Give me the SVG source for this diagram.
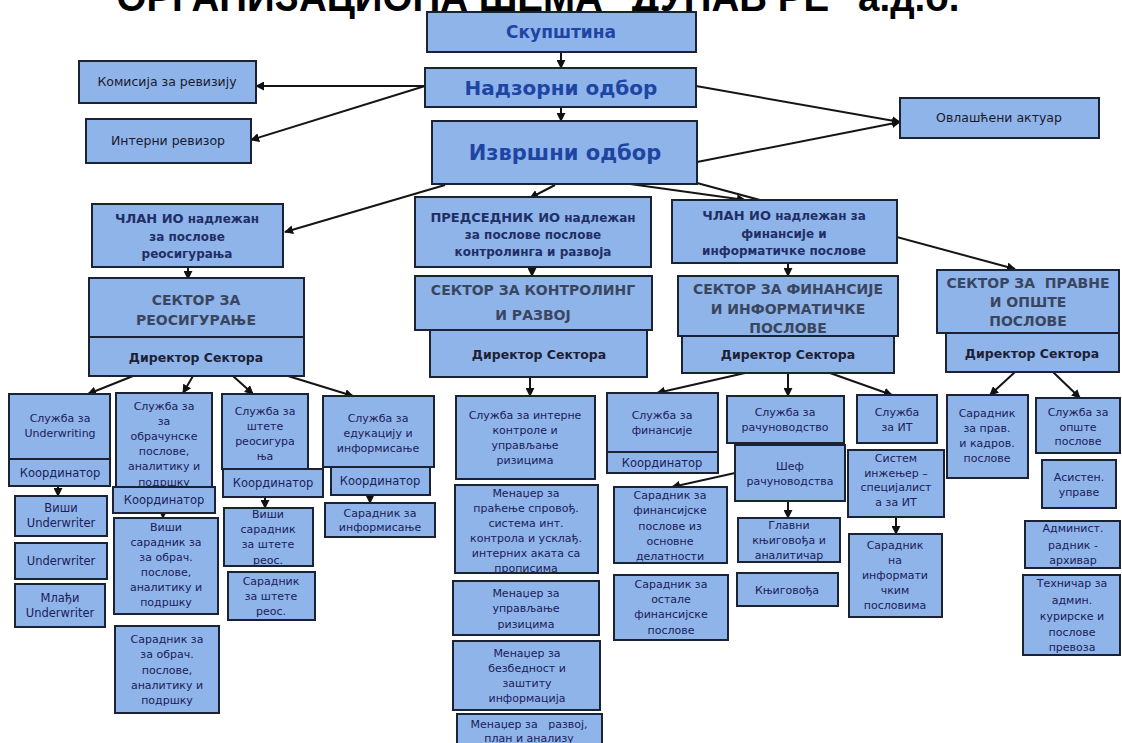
<svg xmlns="http://www.w3.org/2000/svg" width="1122" height="743" viewBox="0 0 1122 743">
<defs>
<marker id="ah" viewBox="0 0 10 10" refX="9" refY="5" markerWidth="9" markerHeight="9" markerUnits="userSpaceOnUse" orient="auto">
<path d="M0,0 L10,5 L0,10 z" fill="#111"/>
</marker>
<style>
.b{fill:#8fb4ea;stroke:#1a2233;stroke-width:2}
.c line{stroke:#151515;stroke-width:2;marker-end:url(#ah)}
text{font-family:"DejaVu Sans","Noto Sans",sans-serif;text-anchor:middle}
.t{font-size:11px;fill:#1b2058}
.k{font-size:11.5px;fill:#1b2058}
.top{font-weight:bold;fill:#1f45a3}
.m{font-size:12.5px;fill:#1a1a2a}
.cl{font-size:12px;font-weight:bold;fill:#1f2f66}
.s{font-size:14px;font-weight:bold;fill:#3a4660}
.d{font-size:12.5px;fill:#1c2136;font-weight:bold}
.ttl{font-family:"Liberation Sans",Arial,sans-serif;font-weight:bold;font-size:40px;fill:#000}
</style>
</defs>
<rect width="1122" height="743" fill="#fff"/>
<text class="ttl" x="538" y="11" textLength="843" lengthAdjust="spacingAndGlyphs">ОРГАНИЗАЦИОНА ШЕМА "ДУНАВ РЕ" а.д.о.</text>

<g id="connectors" class="c">
<line x1="561" y1="52" x2="561" y2="68"/>
<line x1="561" y1="107" x2="561" y2="121"/>
<line x1="425" y1="86" x2="256" y2="86"/>
<line x1="425" y1="86" x2="251" y2="140"/>
<line x1="696" y1="86" x2="900" y2="122"/>
<line x1="697" y1="162" x2="900" y2="122"/>
<line x1="445" y1="185" x2="285" y2="232"/>
<line x1="555" y1="185" x2="530" y2="198"/>
<line x1="630" y1="184" x2="745" y2="200"/>
<line x1="697" y1="183" x2="1015" y2="269"/>
<line x1="188" y1="268" x2="188" y2="279"/>
<line x1="532" y1="268" x2="532" y2="276"/>
<line x1="788" y1="263" x2="788" y2="276"/>
<line x1="133" y1="376" x2="88" y2="394"/>
<line x1="193" y1="376" x2="183" y2="393"/>
<line x1="233" y1="376" x2="253" y2="394"/>
<line x1="288" y1="376" x2="353" y2="396"/>
<line x1="530" y1="377" x2="530" y2="396"/>
<line x1="745" y1="373" x2="657" y2="393"/>
<line x1="788" y1="373" x2="788" y2="396"/>
<line x1="830" y1="373" x2="892" y2="395"/>
<line x1="1015" y1="372" x2="990" y2="395"/>
<line x1="1053" y1="372" x2="1080" y2="398"/>
<line x1="58" y1="486" x2="58" y2="496"/>
<line x1="163" y1="513" x2="163" y2="518"/>
<line x1="265" y1="497" x2="265" y2="508"/>
<line x1="370" y1="495" x2="370" y2="503"/>
<line x1="735" y1="473" x2="672" y2="487"/>
<line x1="788" y1="501" x2="788" y2="518"/>
<line x1="896" y1="517" x2="896" y2="534"/>
</g>

<g id="skupstina"><rect class="b" x="427" y="12" width="269" height="40"/><text class="top" x="561" y="38" font-size="17">Скупштина</text></g>
<g id="nadzorni"><rect class="b" x="425" y="68" width="271" height="39"/><text class="top" x="561" y="95" font-size="20">Надзорни одбор</text></g>
<g id="izvrsni"><rect class="b" x="432" y="121" width="265" height="63"/><text class="top" x="565" y="160" font-size="21">Извршни одбор</text></g>
<g id="komisija"><rect class="b" x="79" y="61" width="177" height="42"/><text class="m" x="167" y="86">Комисија за ревизију</text></g>
<g id="interni"><rect class="b" x="86" y="119" width="165" height="44"/><text class="m" x="168" y="145">Интерни ревизор</text></g>
<g id="aktuar"><rect class="b" x="900" y="98" width="199" height="40"/><text class="m" x="999" y="122">Овлашћени актуар</text></g>

<g id="clan-reos"><rect class="b" x="92" y="204" width="191" height="63"/>
<text class="cl" x="187" y="223"><tspan font-size="13">ЧЛАН ИО</tspan> надлежан</text>
<text class="cl" x="187" y="241">за послове</text>
<text class="cl" x="187" y="258">реосигурања</text></g>
<g id="predsednik"><rect class="b" x="415" y="197" width="236" height="70"/>
<text class="cl" x="533" y="222"><tspan font-size="13">ПРЕДСЕДНИК ИО</tspan> надлежан</text>
<text class="cl" x="533" y="239">за послове послове</text>
<text class="cl" x="533" y="256">контролинга и развоја</text></g>
<g id="clan-fin"><rect class="b" x="672" y="200" width="225" height="63"/>
<text class="cl" x="784" y="220"><tspan font-size="13">ЧЛАН ИО</tspan> надлежан за</text>
<text class="cl" x="784" y="238">финансије и</text>
<text class="cl" x="784" y="255">информатичке послове</text></g>

<g id="sektor-reos"><rect class="b" x="89" y="278" width="215" height="59"/><rect class="b" x="89" y="337" width="215" height="39"/>
<text class="s" x="196" y="305">СЕКТОР ЗА</text>
<text class="s" x="196" y="325">РЕОСИГУРАЊЕ</text>
<text class="d" x="196" y="362">Директор Сектора</text></g>
<g id="sektor-kontr"><rect class="b" x="415" y="276" width="237" height="54"/><rect class="b" x="430" y="330" width="217" height="47"/>
<text class="s" x="533" y="295">СЕКТОР ЗА КОНТРОЛИНГ</text>
<text class="s" x="533" y="320">И РАЗВОЈ</text>
<text class="d" x="539" y="359">Директор Сектора</text></g>
<g id="sektor-fin"><rect class="b" x="678" y="276" width="220" height="60"/><rect class="b" x="682" y="336" width="212" height="37"/>
<text class="s" x="788" y="294">СЕКТОР ЗА ФИНАНСИЈЕ</text>
<text class="s" x="788" y="314">И ИНФОРМАТИЧКЕ</text>
<text class="s" x="788" y="333">ПОСЛОВЕ</text>
<text class="d" x="788" y="359">Директор Сектора</text></g>
<g id="sektor-pravne"><rect class="b" x="937" y="270" width="182" height="63"/><rect class="b" x="946" y="333" width="173" height="39"/>
<text class="s" x="1028" y="288" xml:space="preserve">СЕКТОР ЗА  ПРАВНЕ</text>
<text class="s" x="1028" y="307">И ОПШТЕ</text>
<text class="s" x="1028" y="326">ПОСЛОВЕ</text>
<text class="d" x="1032" y="358">Директор Сектора</text></g>

<g id="sl-uw"><rect class="b" x="9" y="394" width="101" height="65"/><rect class="b" x="9" y="459" width="101" height="27"/>
<text class="t" x="60" y="422">Служба за</text><text class="t" x="60" y="437">Underwriting</text>
<text class="k" x="60" y="477">Координатор</text></g>
<g id="visi-uw"><rect class="b" x="15" y="496" width="92" height="40"/><text class="k" x="61" y="512">Виши</text><text class="k" x="61" y="527">Underwriter</text></g>
<g id="uw"><rect class="b" x="15" y="543" width="92" height="36"/><text class="k" x="61" y="565">Underwriter</text></g>
<g id="mladji-uw"><rect class="b" x="15" y="584" width="90" height="43"/><text class="k" x="60" y="602">Млађи</text><text class="k" x="60" y="617">Underwriter</text></g>

<g id="sl-obr"><rect class="b" x="116" y="393" width="96" height="95"/>
<text class="t" x="164" y="410">Служба за</text><text class="t" x="164" y="425">за</text><text class="t" x="164" y="440">обрачунске</text><text class="t" x="164" y="455">послове,</text><text class="t" x="164" y="470">аналитику и</text><text class="t" x="164" y="486">подршку</text></g>
<g id="koord-obr"><rect class="b" x="113" y="487" width="102" height="26"/><text class="k" x="164" y="504">Координатор</text></g>
<g id="visi-obr"><rect class="b" x="114" y="518" width="104" height="96"/>
<text class="t" x="166" y="531">Виши</text><text class="t" x="166" y="546">сарадник за</text><text class="t" x="166" y="561">за обрач.</text><text class="t" x="166" y="576">послове,</text><text class="t" x="166" y="591">аналитику и</text><text class="t" x="166" y="606">подршку</text></g>
<g id="sar-obr"><rect class="b" x="115" y="626" width="104" height="87"/>
<text class="t" x="167" y="643">Сарадник за</text><text class="t" x="167" y="658">за обрач.</text><text class="t" x="167" y="674">послове,</text><text class="t" x="167" y="689">аналитику и</text><text class="t" x="167" y="704">подршку</text></g>

<g id="sl-stete"><rect class="b" x="222" y="394" width="86" height="75"/>
<text class="t" x="265" y="415">Служба за</text><text class="t" x="265" y="430">штете</text><text class="t" x="265" y="445">реосигура</text><text class="t" x="265" y="460">ња</text></g>
<g id="koord-stete"><rect class="b" x="223" y="469" width="100" height="28"/><text class="k" x="273" y="487">Координатор</text></g>
<g id="visi-stete"><rect class="b" x="224" y="508" width="89" height="58"/>
<text class="t" x="268" y="518">Виши</text><text class="t" x="268" y="533">сарадник</text><text class="t" x="268" y="548">за штете</text><text class="t" x="268" y="564">реос.</text></g>
<g id="sar-stete"><rect class="b" x="228" y="572" width="87" height="48"/>
<text class="t" x="271" y="585">Сарадник</text><text class="t" x="271" y="600">за штете</text><text class="t" x="271" y="615">реос.</text></g>

<g id="sl-eduk"><rect class="b" x="323" y="396" width="111" height="71"/>
<text class="t" x="378" y="422">Служба за</text><text class="t" x="378" y="437">едукацију и</text><text class="t" x="378" y="452">информисање</text></g>
<g id="koord-eduk"><rect class="b" x="331" y="467" width="99" height="28"/><text class="k" x="380" y="485">Координатор</text></g>
<g id="sar-inf"><rect class="b" x="325" y="503" width="110" height="34"/>
<text class="t" x="380" y="517">Сарадник за</text><text class="t" x="380" y="531">информисање</text></g>

<g id="sl-interne"><rect class="b" x="456" y="396" width="139" height="83"/>
<text class="t" x="525" y="419">Служба за интерне</text><text class="t" x="525" y="434">контроле и</text><text class="t" x="525" y="449">управљање</text><text class="t" x="525" y="464">ризицима</text></g>
<g id="men-pracenje"><rect class="b" x="455" y="485" width="143" height="88"/>
<text class="t" x="526" y="497">Менаџер за</text><text class="t" x="526" y="512">праћење спровођ.</text><text class="t" x="526" y="527">система инт.</text><text class="t" x="526" y="542">контрола и усклађ.</text><text class="t" x="526" y="557">интерних аката са</text><text class="t" x="526" y="572">прописима</text></g>
<g id="men-rizik"><rect class="b" x="453" y="581" width="146" height="54"/>
<text class="t" x="526" y="597">Менаџер за</text><text class="t" x="526" y="612">управљање</text><text class="t" x="526" y="628">ризицима</text></g>
<g id="men-bezb"><rect class="b" x="453" y="641" width="147" height="69"/>
<text class="t" x="527" y="657">Менаџер за</text><text class="t" x="527" y="672">безбедност и</text><text class="t" x="527" y="687">заштиту</text><text class="t" x="527" y="702">информација</text></g>
<g id="men-razvoj"><rect class="b" x="457" y="714" width="145" height="40"/>
<text class="t" x="529" y="728" xml:space="preserve">Менаџер за   развој,</text><text class="t" x="529" y="742">план и анализу</text></g>

<g id="sl-fin"><rect class="b" x="607" y="393" width="111" height="59"/><rect class="b" x="607" y="452" width="111" height="21"/>
<text class="t" x="662" y="419">Служба за</text><text class="t" x="662" y="434">финансије</text>
<text class="k" x="662" y="467">Координатор</text></g>
<g id="sl-racun"><rect class="b" x="727" y="396" width="117" height="47"/>
<text class="t" x="785" y="416">Служба за</text><text class="t" x="785" y="431">рачуноводство</text></g>
<g id="sef-racun"><rect class="b" x="735" y="445" width="110" height="56"/>
<text class="t" x="790" y="470">Шеф</text><text class="t" x="790" y="485">рачуноводства</text></g>
<g id="sar-fin"><rect class="b" x="614" y="487" width="113" height="76"/>
<text class="t" x="670" y="499">Сарадник за</text><text class="t" x="670" y="514">финансијске</text><text class="t" x="670" y="530">послове из</text><text class="t" x="670" y="545">основне</text><text class="t" x="670" y="560">делатности</text></g>
<g id="glavni-knj"><rect class="b" x="738" y="518" width="102" height="44"/>
<text class="t" x="789" y="529">Главни</text><text class="t" x="789" y="544">књиговођа и</text><text class="t" x="789" y="559">аналитичар</text></g>
<g id="sar-ostale"><rect class="b" x="614" y="575" width="114" height="65"/>
<text class="t" x="671" y="588">Сарадник за</text><text class="t" x="671" y="603">остале</text><text class="t" x="671" y="618">финансијске</text><text class="t" x="671" y="634">послове</text></g>
<g id="knjigovodja"><rect class="b" x="737" y="573" width="101" height="33"/><text class="t" x="787" y="594">Књиговођа</text></g>

<g id="sl-it"><rect class="b" x="857" y="395" width="80" height="48"/>
<text class="t" x="897" y="416">Служба</text><text class="t" x="897" y="431">за ИТ</text></g>
<g id="sistem-inz"><rect class="b" x="848" y="450" width="96" height="67"/>
<text class="t" x="896" y="462">Систем</text><text class="t" x="896" y="477">инжењер –</text><text class="t" x="896" y="491">специјалист</text><text class="t" x="896" y="506">а за ИТ</text></g>
<g id="sar-it"><rect class="b" x="849" y="534" width="93" height="83"/>
<text class="t" x="895" y="549">Сарадник</text><text class="t" x="895" y="564">на</text><text class="t" x="895" y="579">информати</text><text class="t" x="895" y="594">чким</text><text class="t" x="895" y="609">пословима</text></g>

<g id="sar-prav"><rect class="b" x="947" y="395" width="81" height="83"/>
<text class="t" x="987" y="417">Сарадник</text><text class="t" x="987" y="432">за прав.</text><text class="t" x="987" y="447">и кадров.</text><text class="t" x="987" y="462">послове</text></g>
<g id="sl-opste"><rect class="b" x="1036" y="398" width="84" height="55"/>
<text class="t" x="1078" y="416">Служба за</text><text class="t" x="1078" y="431">опште</text><text class="t" x="1078" y="445">послове</text></g>
<g id="asistent"><rect class="b" x="1042" y="460" width="74" height="48"/>
<text class="t" x="1079" y="481">Асистен.</text><text class="t" x="1079" y="496">управе</text></g>
<g id="arhivar"><rect class="b" x="1025" y="521" width="95" height="47"/>
<text class="t" x="1073" y="532">Админист.</text><text class="t" x="1073" y="549">радник -</text><text class="t" x="1073" y="564">архивар</text></g>
<g id="tehnicar"><rect class="b" x="1023" y="575" width="97" height="80"/>
<text class="t" x="1072" y="587">Техничар за</text><text class="t" x="1072" y="604">админ.</text><text class="t" x="1072" y="620">курирске и</text><text class="t" x="1072" y="636">послове</text><text class="t" x="1072" y="651">превоза</text></g>
</svg>
